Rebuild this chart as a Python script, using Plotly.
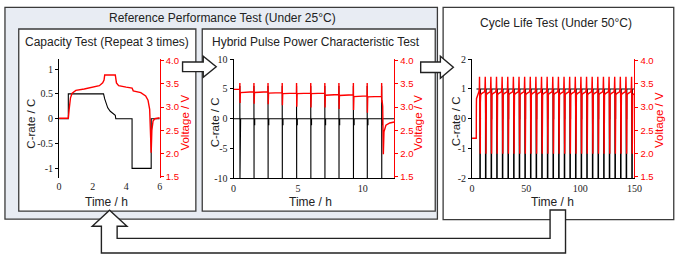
import plotly.graph_objects as go

W, H = 685, 259

# ---------------- data ----------------
# Capacity test
cap_time_c = [0, 0.55, 0.55, 2.65, 2.72, 2.8, 2.9, 3.05, 3.2, 3.35, 3.38, 4.35, 4.35, 5.49, 5.49, 6.0]
cap_crate = [0, 0, 0.5, 0.5, 0.4, 0.3, 0.22, 0.15, 0.1, 0.07, 0, 0, -1, -1, 0, 0]
cap_time_v = [0, 0.55, 0.6, 0.68, 0.78, 1.0, 1.5, 2.0, 2.4, 2.6, 2.68, 2.72, 3.35, 3.42, 3.55,
              4.0, 4.35, 4.42, 4.87, 5.16, 5.3, 5.4, 5.46, 5.49, 5.53, 5.6, 5.7, 6.0]
cap_volt = [2.76, 2.76, 2.95, 3.2, 3.3, 3.36, 3.39, 3.42, 3.46, 3.52, 3.58, 3.69, 3.69, 3.52, 3.46,
            3.43, 3.41, 3.35, 3.31, 3.24, 3.15, 2.95, 2.5, 2.02, 2.5, 2.7, 2.75, 2.77]

# HPPC test
hp_end_time = 12.45
hp_pulse_t = [0.49, 1.58, 2.67, 3.77, 4.88, 5.98, 7.07, 8.16, 9.28, 10.35, 11.47]
hp_pulse_max_c = [5.5] * 11
hp_pulse_min_c = [-10] * 11
hp_after_c = [-1] * 11
hp_init_v = 3.38
hp_spike_max_v = [3.52, 3.52, 3.52, 3.52, 3.52, 3.52, 3.52, 3.52, 3.52, 3.52, 3.52]
hp_spike_min_v = [3.09, 3.07, 3.06, 3.04, 3.01, 2.99, 2.99, 2.96, 2.94, 2.88, 3.1]
hp_seg_start_v = [3.31, 3.315, 3.30, 3.29, 3.29, 3.29, 3.255, 3.25, 3.225, 3.22]
hp_seg_end_v = [3.33, 3.33, 3.31, 3.30, 3.30, 3.30, 3.27, 3.265, 3.24, 3.23]
hp_tail_t = [11.5, 11.55, 11.6, 11.65, 11.8, 12.1, 12.45]
hp_tail_v = [3.15, 3.02, 1.99, 2.47, 2.61, 2.66, 2.68]

# Cycle life test
cy_spike_t = [6.9, 12.1, 17.3, 22.5, 27.7, 32.9, 38.1, 43.3, 48.5, 53.7, 58.9, 64.1, 69.3, 74.5,
              79.7, 84.9, 90.1, 95.3, 100.5, 105.7, 110.9, 116.1, 121.3, 126.5, 131.7, 136.9, 142.1, 147.3]
cy_pre_t = [0, 3.9, 4.0, 4.1]
cy_pre_v = [2.33, 2.33, 3.0, 3.18]
cy_prof_dt = [-4.3, -4.1, -3.3, -0.6, -0.15, 0.0, 0.1, 0.2, 0.35, 0.75, 0.8]
cy_prof_v = [3.18, 3.26, 3.29, 3.33, 3.40, 3.65, 3.65, 3.35, 3.30, 2.0, 3.1]
cy_post_t = [148.2, 148.4, 150.0]
cy_post_v = [3.18, 3.26, 3.29]
cy_charge_c = 1
cy_dis_c = -2
cy_dis_dt = [0.3, 0.75]
cy_rest_end_dt = 0.9
cy_start_t = 4.1

# ---------------- build series from the lists ----------------
hp_t_c, hp_c = [0], [0]
for tp, cmax, cmin, ca in zip(hp_pulse_t, hp_pulse_max_c, hp_pulse_min_c, hp_after_c):
    hp_t_c += [tp, tp, tp + 0.004, tp + 0.008, tp + 0.012, tp + 0.06, tp + 0.06]
    hp_c += [0, cmax, cmax, cmin, ca, ca, 0]
hp_t_c.append(hp_end_time)
hp_c.append(0)

hp_t_v, hp_v = [0], [hp_init_v]
for i, tp in enumerate(hp_pulse_t):
    prev_end = hp_init_v if i == 0 else hp_seg_end_v[i - 1]
    hp_t_v += [tp - 0.01, tp, tp + 0.015]
    hp_v += [prev_end, hp_spike_max_v[i], hp_spike_min_v[i]]
    if i < len(hp_seg_start_v):
        hp_t_v.append(tp + 0.04)
        hp_v.append(hp_seg_start_v[i])
hp_t_v += hp_tail_t
hp_v += hp_tail_v

cy_t_v, cy_v = list(cy_pre_t), list(cy_pre_v)
for ts in cy_spike_t:
    for dt, v in zip(cy_prof_dt, cy_prof_v):
        if ts + dt > cy_start_t:
            cy_t_v.append(ts + dt)
            cy_v.append(v)
cy_t_v += cy_post_t
cy_v += cy_post_v

cy_t_c, cy_c = [cy_start_t], [cy_charge_c]
for ts in cy_spike_t:
    a, b = ts + cy_dis_dt[0], ts + cy_dis_dt[1]
    r = ts + cy_rest_end_dt
    cy_t_c += [a, a, b, b, r, r]
    cy_c += [cy_charge_c, cy_dis_c, cy_dis_c, 0, 0, cy_charge_c]
cy_t_c.append(150)
cy_c.append(cy_charge_c)

# ---------------- figure ----------------
def X(p):
    return p / W


def Y(p):
    return 1 - p / H


SANS = "'Liberation Sans', Arial, sans-serif"
SERIF = "'Liberation Serif', 'Times New Roman', serif"
TXT = "#222222"
PT, PB = 55.5, 180.0

fig = go.Figure()
BLK = dict(color="black", width=1.1)
RED = dict(color="#ff0000", width=1.4)
common = dict(mode="lines", showlegend=False, hoverinfo="skip")
fig.add_trace(go.Scatter(x=cap_time_c, y=cap_crate, xaxis="x", yaxis="y", line=BLK, **common))
fig.add_trace(go.Scatter(x=cap_time_v, y=cap_volt, xaxis="x", yaxis="y2", line=RED, **common))
fig.add_trace(go.Scatter(x=hp_t_c, y=hp_c, xaxis="x2", yaxis="y3", line=BLK, **common))
fig.add_trace(go.Scatter(x=hp_t_v, y=hp_v, xaxis="x2", yaxis="y4", line=RED, **common))
fig.add_trace(go.Scatter(x=cy_t_c, y=cy_c, xaxis="x3", yaxis="y5", line=BLK, **common))
fig.add_trace(go.Scatter(x=cy_t_v, y=cy_v, xaxis="x3", yaxis="y6", line=RED, **common))

serif_font = dict(family=SERIF, size=10, color=TXT)
red_font = dict(family=SANS, size=9.5, color="#ff0000")
vt = [1.5, 2.0, 2.5, 3.0, 3.5, 4.0]
vtt = ["1.5", "2.0", "2.5", "3.0", "3.5", "4.0"]


def xax(x0, x1, rng, tv, anchor, line):
    return dict(domain=[X(x0), X(x1)], range=rng, anchor=anchor, tickvals=tv,
                showline=line, linecolor="black", linewidth=1, ticks="",
                showgrid=False, zeroline=False, tickfont=serif_font, ticklabelstandoff=1)


def yleft(rng, tv, tt, anchor):
    return dict(domain=[Y(PB), Y(PT)], range=rng, anchor=anchor, tickvals=tv, ticktext=tt,
                showline=True, linecolor="black", linewidth=1, ticks="outside", ticklen=3,
                tickcolor="black", showgrid=False, zeroline=False, tickfont=serif_font)


def yright(over, anchor):
    return dict(overlaying=over, side="right", anchor=anchor, range=[1.47, 4.03], tickvals=vt,
                ticktext=vtt, showline=True, linecolor="#ff0000", linewidth=1.2, ticks="outside",
                ticklen=3, tickcolor="#ff0000", showgrid=False, zeroline=False, tickfont=red_font)


layout = dict(
    width=W, height=H, margin=dict(l=0, r=0, t=0, b=0),
    paper_bgcolor="white", plot_bgcolor="rgba(0,0,0,0)", showlegend=False,
    xaxis=xax(57.0, 159.3, [0, 6], [0, 2, 4, 6], "y", False),
    yaxis=yleft([-1.2, 1.2], [-1, -0.5, 0, 0.5, 1], ["-1", "-0.5", "0", "0.5", "1"], "x"),
    yaxis2=yright("y", "x"),
    xaxis2=xax(234.3, 397.7, [0, 12.45], [0, 5, 10], "y3", True),
    yaxis3=yleft([-10, 10], [-10, -5, 0, 5, 10], ["-10", "-5", "0", "5", "10"], "x2"),
    yaxis4=yright("y3", "x2"),
    xaxis3=xax(476.7, 641.7, [0, 150], [0, 50, 100, 150], "y5", True),
    yaxis5=yleft([-2, 2], [-2, -1, 0, 1, 2], ["-2", "-1", "0", "1", "2"], "x3"),
    yaxis6=yright("y5", "x3"),
)
fig.update_layout(**layout)

# ---------------- boxes and arrows ----------------
BORDER = "#3a3a3a"


def rect(x0, y0, x1, y1, fill):
    return dict(type="rect", xref="paper", yref="paper", x0=X(x0), x1=X(x1), y0=Y(y1), y1=Y(y0),
                fillcolor=fill, line=dict(color=BORDER, width=1.3), layer="below")


def poly(pts):
    d = "M " + " L ".join(f"{X(a):.5f},{Y(b):.5f}" for a, b in pts) + " Z"
    return dict(type="path", xref="paper", yref="paper", path=d, fillcolor="white",
                line=dict(color="#222222", width=1.4), layer="below")


shapes = [
    rect(2, 1.5, 441.5, 222.5, "#e8ecf3"),
    rect(16, 24, 196, 214.3, "white"),
    rect(202.5, 24, 439.3, 214.3, "white"),
    rect(447.3, 1.5, 681.7, 223, "white"),
    poly([(182.5, 58.5), (203.5, 58.5), (203.5, 52.5), (216.7, 63.5), (203.5, 74.5),
          (203.5, 68.5), (182.5, 68.5)]),
    poly([(424.5, 58.5), (444.5, 58.5), (444.5, 52.5), (457.7, 64), (444.5, 75.5),
          (444.5, 69.5), (424.5, 69.5)]),
    poly([(556, 213), (571.7, 213), (571.7, 258), (100, 258), (100, 230), (90.7, 230),
          (108.3, 213.3), (126, 230), (116, 230), (116, 242.7), (556, 242.7)]),
]
fig.update_layout(shapes=shapes)

# ---------------- texts ----------------
def ann(text, x, y, size=12, color=TXT, angle=0):
    return dict(text=text, x=X(x), y=Y(y), xref="paper", yref="paper", showarrow=False,
                xanchor="center", yanchor="middle", textangle=angle,
                font=dict(family=SANS, size=size, color=color))


annotations = [
    ann("Reference Performance Test (Under 25°C)", 223, 12.7),
    ann("Capacity Test (Repeat 3 times)", 105.5, 38),
    ann("Hybrid Pulse Power Characteristic Test", 317.7, 38),
    ann("Cycle Life Test (Under 50°C)", 562.5, 17.3),
    ann("C-rate / C", 28.5, 122.8, 11.5, TXT, -90),
    ann("Voltage / V", 185, 121.7, 11.5, "#ff0000", -90),
    ann("Time / h", 105, 205),
    ann("C-rate / C", 215, 122, 11.5, TXT, -90),
    ann("Voltage / V", 421.7, 122, 11.5, "#ff0000", -90),
    ann("Time / h", 313, 205),
    ann("C-rate / C", 460, 120.8, 11.5, TXT, -90),
    ann("Voltage / V", 666.7, 119, 11.5, "#ff0000", -90),
    ann("Time / h", 558.3, 205),
]
fig.update_layout(annotations=annotations)

fig.write_html("out.html", config={"displayModeBar": False},
               post_script="document.body.style.margin='0';")
